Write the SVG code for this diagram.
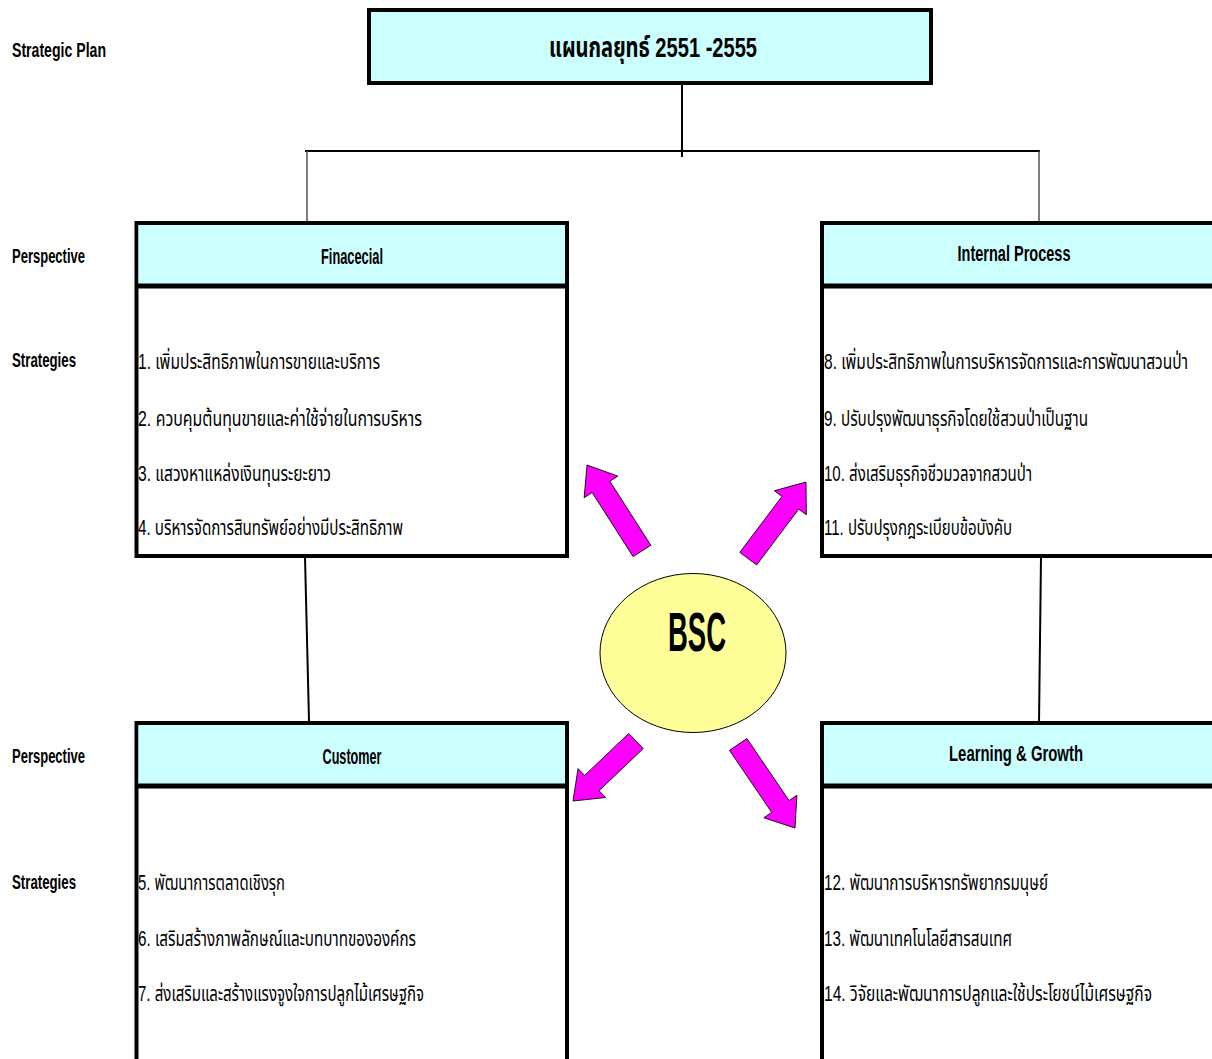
<svg xmlns="http://www.w3.org/2000/svg" width="1212" height="1059" viewBox="0 0 1212 1059">
<style>
  text { font-family: "Liberation Sans Narrow", "Liberation Sans", "Noto Sans Thai", "Noto Sans", "DejaVu Sans", sans-serif; fill: #000; }
  .lbl { font-size: 20px; font-weight: bold; }
  .hdr { font-size: 22px; font-weight: bold; text-anchor: middle; }
  .item { font-size: 22px; }
  .box { fill: #fff; stroke: #000; stroke-width: 4; }
  .head { fill: #CCFFFF; }
  .div { stroke: #000; stroke-width: 5; }
  .conn { stroke: #000; stroke-width: 2; fill: none; }
  .thin { stroke: #555; stroke-width: 1.5; fill: none; }
  .arrow { fill: #FF00FF; stroke: #000; stroke-width: 0.8; }
</style>
<rect width="1212" height="1059" fill="#fff"/>

<g id="labels">
  <text class="lbl" x="12" y="57" textLength="94" lengthAdjust="spacingAndGlyphs">Strategic  Plan</text>
  <text class="lbl" x="12" y="263" textLength="73" lengthAdjust="spacingAndGlyphs">Perspective</text>
  <text class="lbl" x="12" y="367" textLength="64" lengthAdjust="spacingAndGlyphs">Strategies</text>
  <text class="lbl" x="12" y="763" textLength="73" lengthAdjust="spacingAndGlyphs">Perspective</text>
  <text class="lbl" x="12" y="889" textLength="64" lengthAdjust="spacingAndGlyphs">Strategies</text>
</g>

<g id="connectors">
  <line class="conn" x1="682" y1="84" x2="682" y2="157"/>
  <line class="conn" x1="305" y1="151" x2="1040" y2="151"/>
  <line class="thin" x1="307" y1="151" x2="307" y2="221"/>
  <line class="thin" x1="1039" y1="151" x2="1039" y2="221"/>
  <line class="conn" x1="305" y1="557" x2="309" y2="721"/>
  <line class="conn" x1="1041" y1="557" x2="1039" y2="723"/>
</g>

<g id="title">
  <rect x="369" y="10" width="562" height="73" fill="#CCFFFF" stroke="#000" stroke-width="4"/>
  <text x="653" y="57" font-size="28" font-weight="bold" text-anchor="middle" textLength="208" lengthAdjust="spacingAndGlyphs">แผนกลยุทธ์ 2551 -2555</text>
</g>

<g id="financial">
  <rect class="box" x="136.5" y="223" width="430.5" height="333"/>
  <rect class="head" x="138.5" y="225" width="426.5" height="61"/>
  <line class="div" x1="136.5" y1="286" x2="567" y2="286"/>
  <text class="hdr" x="352" y="264" textLength="62" lengthAdjust="spacingAndGlyphs">Finacecial</text>
  <text class="item" x="138" y="369" textLength="242" lengthAdjust="spacingAndGlyphs">1. เพิ่มประสิทธิภาพในการขายและบริการ</text>
  <text class="item" x="138" y="426" textLength="284" lengthAdjust="spacingAndGlyphs">2.  ควบคุมต้นทุนขายและค่าใช้จ่ายในการบริหาร</text>
  <text class="item" x="138" y="481" textLength="193" lengthAdjust="spacingAndGlyphs">3.  แสวงหาแหล่งเงินทุนระยะยาว</text>
  <text class="item" x="138" y="535" textLength="265" lengthAdjust="spacingAndGlyphs">4. บริหารจัดการสินทรัพย์อย่างมีประสิทธิภาพ</text>
</g>

<g id="internal">
  <rect class="box" x="822" y="223" width="400" height="333"/>
  <rect class="head" x="824" y="225" width="396" height="61"/>
  <line class="div" x1="822" y1="286" x2="1222" y2="286"/>
  <text class="hdr" x="1014" y="261" textLength="113" lengthAdjust="spacingAndGlyphs">Internal  Process</text>
  <text class="item" x="824" y="369" font-size="20" textLength="364" lengthAdjust="spacingAndGlyphs">8. เพิ่มประสิทธิภาพในการบริหารจัดการและการพัฒนาสวนป่า</text>
  <text class="item" x="824" y="426" textLength="264" lengthAdjust="spacingAndGlyphs">9. ปรับปรุงพัฒนาธุรกิจโดยใช้สวนป่าเป็นฐาน</text>
  <text class="item" x="824" y="481" textLength="208" lengthAdjust="spacingAndGlyphs">10. ส่งเสริมธุรกิจชีวมวลจากสวนป่า</text>
  <text class="item" x="824" y="535" textLength="188" lengthAdjust="spacingAndGlyphs">11. ปรับปรุงกฎระเบียบข้อบังคับ</text>
</g>

<g id="customer">
  <rect class="box" x="136.5" y="723" width="430.5" height="346"/>
  <rect class="head" x="138.5" y="725" width="426.5" height="61"/>
  <line class="div" x1="136.5" y1="786" x2="567" y2="786"/>
  <text class="hdr" x="352" y="764" textLength="59" lengthAdjust="spacingAndGlyphs">Customer</text>
  <text class="item" x="138" y="890" textLength="147" lengthAdjust="spacingAndGlyphs">5. พัฒนาการตลาดเชิงรุก</text>
  <text class="item" x="138" y="946" textLength="278" lengthAdjust="spacingAndGlyphs">6.  เสริมสร้างภาพลักษณ์และบทบาทขององค์กร</text>
  <text class="item" x="138" y="1001" textLength="286" lengthAdjust="spacingAndGlyphs">7. ส่งเสริมและสร้างแรงจูงใจการปลูกไม้เศรษฐกิจ</text>
</g>

<g id="learning">
  <rect class="box" x="822" y="723" width="400" height="346"/>
  <rect class="head" x="824" y="725" width="396" height="61"/>
  <line class="div" x1="822" y1="786" x2="1222" y2="786"/>
  <text class="hdr" x="1016" y="761" textLength="134" lengthAdjust="spacingAndGlyphs">Learning  &amp;  Growth</text>
  <text class="item" x="824" y="890" textLength="224" lengthAdjust="spacingAndGlyphs">12.  พัฒนาการบริหารทรัพยากรมนุษย์</text>
  <text class="item" x="824" y="946" textLength="188" lengthAdjust="spacingAndGlyphs">13.  พัฒนาเทคโนโลยีสารสนเทศ</text>
  <text class="item" x="824" y="1001" font-size="21" textLength="328" lengthAdjust="spacingAndGlyphs">14.  วิจัยและพัฒนาการปลูกและใช้ประโยชน์ไม้เศรษฐกิจ</text>
</g>

<g id="bsc">
  <ellipse cx="693" cy="653" rx="93" ry="79.5" fill="#FFFF99" stroke="#000" stroke-width="1"/>
  <text x="697" y="651" font-size="56" font-weight="bold" text-anchor="middle" textLength="58" lengthAdjust="spacingAndGlyphs">BSC</text>
</g>

<g id="arrows">
  <path class="arrow" transform="translate(587,465) rotate(-122.6)" d="M0,0 L-26,-20 L-26,-10.5 L-102,-10.5 L-102,10.5 L-26,10.5 L-26,20 Z"/>
  <path class="arrow" transform="translate(806,482) rotate(-53)" d="M0,0 L-26,-20 L-26,-10.5 L-96,-10.5 L-96,10.5 L-26,10.5 L-26,20 Z"/>
  <path class="arrow" transform="translate(573,801) rotate(136.4)" d="M0,0 L-26,-20 L-26,-10.5 L-87,-10.5 L-87,10.5 L-26,10.5 L-26,20 Z"/>
  <path class="arrow" transform="translate(795,828) rotate(55.8)" d="M0,0 L-26,-20 L-26,-10.5 L-101,-10.5 L-101,10.5 L-26,10.5 L-26,20 Z"/>
</g>
</svg>
